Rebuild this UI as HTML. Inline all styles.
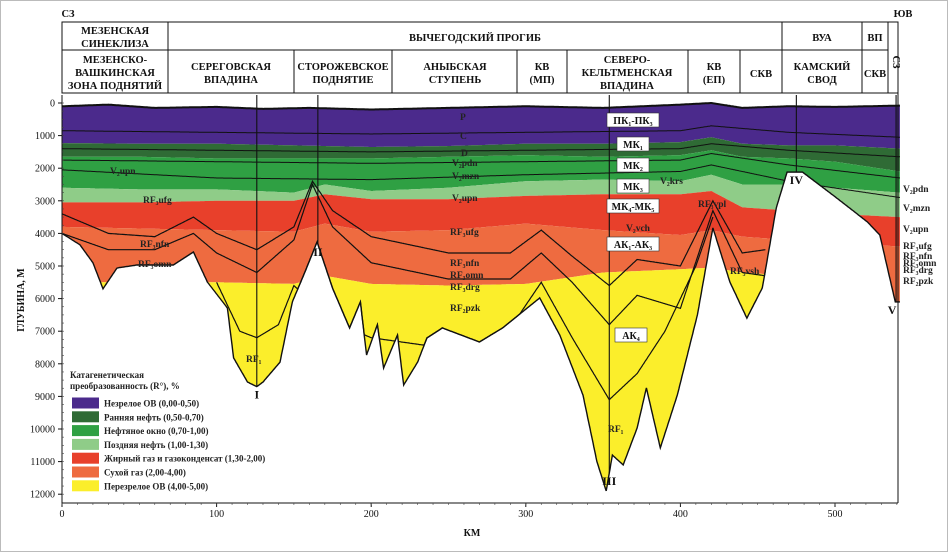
<!DOCTYPE html>
<html><head><meta charset="utf-8">
<style>
html,body{margin:0;padding:0;background:#fff;}
svg{display:block;font-family:"Liberation Serif","Noto Serif CJK SC",serif;}
.h{font-size:10.5px;font-weight:bold;fill:#111;text-anchor:middle;}
.t{font-size:10px;fill:#111;}
.lab{font-size:9.5px;font-weight:bold;fill:#222;}
.box{font-size:10px;font-weight:bold;fill:#111;text-anchor:middle;}
</style></head>
<body>
<svg id="chart" width="948" height="552" viewBox="0 0 948 552">
<rect x="0.5" y="0.5" width="947" height="551" fill="#fff" stroke="#bbb"/>
<g id="fills"></g>
<g id="lines"></g>
<g id="wells"></g>
<g id="axes"></g>
<g id="header"></g>
<g id="labels"></g>
<g id="legend"></g>
</svg>
<script>
// ---- data ----
const topKm=[0,30,60,100,130,160,200,250,300,350,400,420,440,470,500,542];
const topDepth=[100,50,150,120,180,150,200,150,100,150,50,0,150,100,120,80];
const bKm=[0,50,100,150,200,250,300,350,400,420,440,470,500,542];
const b1Depth=[1230,1250,1250,1300,1350,1320,1250,1250,1200,1050,1250,1300,1300,1400];
const b2Depth=[1650,1650,1700,1700,1700,1650,1600,1650,1600,1450,1650,1700,1800,2100];
const b3Km=[0,50,100,150,170,200,250,300,350,400,420,440,470,500,542];
const b3Depth=[2600,2650,2650,2750,2500,2700,2600,2400,2350,2400,2200,2500,2500,2600,2750];
const b4Depth=[3050,3050,3000,3000,2800,2950,2950,2850,2800,2800,2700,3200,3300,3400,3500];
const b5Depth=[3800,3850,3900,3950,3700,3950,3900,3700,3900,4050,3900,4100,4200,4300,4400];
const b6Depth=[5500,5500,5500,5550,5300,5550,5600,5550,5200,5100,5050,5200,5300,6500,6500];
const baseKm=[0,11.6,20,26.5,35.6,48.5,72,85,94,107,111,120,126,130,141,149,157,165,175,186,193,197,204,208,217,221,230,236,246,270,285,309,322,337,346,352,356,363,372,378,387,398,411,421,432,443,453,462,469,479,501,521,529,536,539,542];
const baseDepth=[4000,4350,4900,5700,5060,4970,4970,4570,5490,6290,7820,8560,8700,8560,7950,6100,5200,4260,5680,6900,6100,7730,6800,8130,7120,8650,7950,7210,6900,7330,6900,5980,7120,8960,11000,11900,10800,11100,9970,8740,10580,8960,6500,3830,5490,6600,5670,3220,2120,2120,2910,3650,4050,5490,6100,6100];
const hKm=[0,100,200,300,400,420,470,542];
const hCDepth=[850,900,950,900,850,700,900,1050];
const hDDepth=[1400,1450,1500,1450,1400,1250,1450,1650];
const hV1Depth=[1750,1800,1850,1800,1750,1550,1900,2300];
const hV2Depth=[2050,2300,2350,2200,2100,1900,2400,2900];
const hDeepKm=[0,30,60,85,100,126,150,162,175,200,250,290,310,330,354,372,400,421,440,455];
const hUfgDepth=[3400,4000,4100,3500,4000,4500,3800,2400,3300,4100,4600,4600,3900,4700,5600,4800,5000,3000,4600,4500];
const hNfnDepth=[4000,4500,4500,4000,4600,5200,4200,2500,3800,4900,5400,5400,4600,5500,6800,5900,6300,3300,5200,5300];
const hRfKm=[100,115,126,140,150,175,200,230,260,290,310,330,354,372,390,410,421];
const hRfDepth=[5500,7000,7200,6800,5600,6700,7200,7400,7600,6900,5500,7200,9100,8300,7000,5000,3500];
const yTicks=[0,1000,2000,3000,4000,5000,6000,7000,8000,9000,10000,11000,12000];
const xTicks=[0,100,200,300,400,500];
const layerColors=["#4b2a8c","#2f6b35","#2fa043","#8fcc88","#e8402b","#ee6b40","#fbee2b"];
const legendNames=["Незрелое ОВ (0,00-0,50)","Ранняя нефть (0,50-0,70)","Нефтяное окно (0,70-1,00)","Поздняя нефть (1,00-1,30)","Жирный газ и газоконденсат (1,30-2,00)","Сухой газ (2,00-4,00)","Перезрелое ОВ (4,00-5,00)"];
// ---- scales ----
const X=km=>62+km*1.546;
const Y=d=>103+d*0.0326;
const NS="http://www.w3.org/2000/svg";
function mk(tag,attrs,parent){const e=document.createElementNS(NS,tag);for(const k in attrs)e.setAttribute(k,attrs[k]);parent.appendChild(e);return e;}
function interp(ks,ds,k){if(k<=ks[0])return ds[0];for(let i=1;i<ks.length;i++){if(k<=ks[i]){const t=(k-ks[i-1])/(ks[i]-ks[i-1]);return ds[i-1]+t*(ds[i]-ds[i-1]);}}return ds[ds.length-1];}
const KMAX=542;
const samples=[];for(let k=0;k<=KMAX;k+=0.5)samples.push(k);
const base=k=>interp(baseKm,baseDepth,k);
const bounds=[k=>interp(topKm,topDepth,k),k=>interp(bKm,b1Depth,k),k=>interp(bKm,b2Depth,k),k=>interp(b3Km,b3Depth,k),k=>interp(b3Km,b4Depth,k),k=>interp(b3Km,b5Depth,k),k=>interp(b3Km,b6Depth,k),k=>1e9];
const fills=document.getElementById('fills');
const layerNames=['immature-layer','early-oil-layer','oil-window-layer','late-oil-layer','wet-gas-layer','dry-gas-layer','overmature-layer'];
for(let i=0;i<7;i++){
  let pts=samples.map(k=>X(k).toFixed(1)+','+Y(Math.min(bounds[i](k),base(k))).toFixed(1));
  let low=samples.slice().reverse().map(k=>X(k).toFixed(1)+','+Y(Math.min(bounds[i+1](k),base(k))).toFixed(1));
  const p=mk('polygon',{points:pts.concat(low).join(' '),fill:layerColors[i]},fills);
  
  
}
const lines=document.getElementById('lines');
function hline(ks,ds,name,w){
  const k0=ks[0],k1=ks[ks.length-1];
  const pts=samples.filter(k=>k>=k0&&k<=k1).map(k=>X(k).toFixed(1)+','+Y(Math.min(interp(ks,ds,k),base(k))).toFixed(1));
  const e=mk('polyline',{points:pts.join(' '),fill:'none',stroke:'#111','stroke-width':w},lines);
  
  
}
hline(topKm,topDepth,'ground-surface',2);
hline(hKm,hCDepth,'horizon-c',1);
hline(hKm,hDDepth,'horizon-d',1);
hline(hKm,hV1Depth,'horizon-v2pdn',1);
hline(hKm,hV2Depth,'horizon-v2upn',1);
hline(hDeepKm,hUfgDepth,'horizon-rf3ufg',1.2);
hline(hDeepKm,hNfnDepth,'horizon-rf3nfn',1.2);
hline(hRfKm,hRfDepth,'horizon-rf2',1.2);
hline(baseKm,baseDepth,'basement-line',1.4);
// wells
const wells=document.getElementById('wells');
const wellKm=[126,165.5,354,475,539.5];
const wellNames=['I','II','III','IV','V'];
wellKm.forEach((k,i)=>{
  const l=mk('line',{x1:X(k),x2:X(k),y1:95,y2:Y(base(k)),stroke:'#111','stroke-width':1.1},wells);
  
  
  const t=mk('text',{x:X(k)+(i==4?-4:0),y:Y(base(k))+12,'font-size':'12','font-weight':'bold','text-anchor':'middle',fill:'#111'},wells);
  t.textContent=wellNames[i];
  
  
});
// axes
const axes=document.getElementById('axes');
mk('line',{x1:62,x2:62,y1:95,y2:503,stroke:'#111'},axes);
mk('line',{x1:62,x2:898,y1:503,y2:503,stroke:'#111'},axes);
mk('line',{x1:898,x2:898,y1:93,y2:503,stroke:'#111'},axes);
yTicks.forEach(v=>{
  mk('line',{x1:58,x2:62,y1:Y(v),y2:Y(v),stroke:'#111'},axes);
  const t=mk('text',{x:55,y:Y(v)+3.5,'text-anchor':'end',class:'t'},axes);
  t.textContent=v;
  
  
});
for(let v=0;v<=1200;v+=25){const yy=Y(v*10);mk('line',{x1:62,x2:64,y1:yy,y2:yy,stroke:'#444','stroke-width':0.6},axes);}
xTicks.forEach(v=>{
  mk('line',{x1:X(v),x2:X(v),y1:503,y2:507,stroke:'#111'},axes);
  const t=mk('text',{x:X(v),y:517,'text-anchor':'middle',class:'t'},axes);
  t.textContent=v;
  
  
});
for(let v=0;v<=540;v+=10){mk('line',{x1:X(v),x2:X(v),y1:503,y2:505,stroke:'#444','stroke-width':0.6},axes);}
let t=mk('text',{x:472,y:536,'text-anchor':'middle','font-size':'10','font-weight':'bold',fill:'#111'},axes);t.textContent='КМ';

t=mk('text',{x:24,y:300,'text-anchor':'middle','font-size':'10','font-weight':'bold',fill:'#111',transform:'rotate(-90 24 300)'},axes);t.textContent='ГЛУБИНА, М';

// header
const hd=document.getElementById('header');
mk('rect',{x:62,y:22,width:836,height:71,fill:'#fff',stroke:'#111'},hd);
mk('line',{x1:62,x2:888,y1:50,y2:50,stroke:'#111'},hd);
[168,782,862,888].forEach(x=>mk('line',{x1:x,x2:x,y1:22,y2:93,stroke:'#111'},hd));
[294,392,517,567,688,740].forEach(x=>mk('line',{x1:x,x2:x,y1:50,y2:93,stroke:'#111'},hd));
function ht(x,y,s,name){const e=mk('text',{x:x,y:y,class:'h'},hd);e.textContent=s;}
ht(115,34,'МЕЗЕНСКАЯ','h-mezen1');ht(115,47,'СИНЕКЛИЗА','h-mezen2');
ht(475,41,'ВЫЧЕГОДСКИЙ ПРОГИБ','h-vychegda');ht(822,41,'ВУА','h-vua');ht(875,41,'ВП','h-vp');
ht(115,63,'МЕЗЕНСКО-','h-z1');ht(115,76,'ВАШКИНСКАЯ','h-z2');ht(115,89,'ЗОНА ПОДНЯТИЙ','h-z3');
ht(231,70,'СЕРЕГОВСКАЯ','h-s1');ht(231,83,'ВПАДИНА','h-s2');
ht(343,70,'СТОРОЖЕВСКОЕ','h-st1');ht(343,83,'ПОДНЯТИЕ','h-st2');
ht(455,70,'АНЫБСКАЯ','h-a1');ht(455,83,'СТУПЕНЬ','h-a2');
ht(542,70,'КВ','h-kv1');ht(542,83,'(МП)','h-kv1b');
ht(627,63,'СЕВЕРО-','h-sk1');ht(627,76,'КЕЛЬТМЕНСКАЯ','h-sk2');ht(627,89,'ВПАДИНА','h-sk3');
ht(714,70,'КВ','h-kv2');ht(714,83,'(ЕП)','h-kv2b');
ht(761,77,'СКВ','h-skv1');ht(822,70,'КАМСКИЙ','h-ks1');ht(822,83,'СВОД','h-ks2');ht(875,77,'СКВ','h-skv2');
t=mk('text',{x:893,y:62,class:'h',transform:'rotate(90 893 62)'},hd);t.textContent='СЗ';
t=mk('text',{x:68,y:17,class:'h'},hd);t.textContent='СЗ';
t=mk('text',{x:903,y:17,class:'h'},hd);t.textContent='ЮВ';
// labels
const lb=document.getElementById('labels');
function lab(x,y,s,name){const e=mk('text',{x:x,y:y,class:'lab'},lb);e.textContent=s;}
[[460,120,'P'],[460,139,'C'],[461,156,'D'],[452,166,'V₂pdn'],[452,179,'V₂mzn'],[452,201,'V₂upn'],[450,235,'RF₃ufg'],[450,266,'RF₃nfn'],[450,278,'RF₃omn'],[450,290,'RF₃drg'],[450,311,'RF₂pzk'],
 [110,174,'V₂upn'],[143,203,'RF₃ufg'],[140,247,'RF₃nfn'],[138,267,'RF₃omn'],[246,362,'RF₁'],[608,432,'RF₁'],[626,231,'V₂vch'],[660,184,'V₂krs'],[698,207,'RF₃vpl'],[730,274,'RF₃vsh'],
 [903,192,'V₂pdn'],[903,211,'V₂mzn'],[903,232,'V₂upn'],[903,249,'RF₃ufg'],[903,259,'RF₃nfn'],[903,266,'RF₃omn'],[903,273,'RF₃drg'],[903,284,'RF₂pzk']].forEach((a,i)=>lab(a[0],a[1],a[2],'strat-label-'+i));
[[633,121,'ПК₁-ПК₃'],[633,145,'МК₁'],[633,166,'МК₂'],[633,187,'МК₃'],[633,207,'МК₄-МК₅'],[633,245,'АК₁-АК₃'],[631,336,'АК₄']].forEach((a,i)=>{
  const w=a[2].length>4?52:32;
  mk('rect',{x:a[0]-w/2,y:a[1]-8,width:w,height:14,fill:'#fff',stroke:'#333','stroke-width':0.6},lb);
  const e=mk('text',{x:a[0],y:a[1]+3,class:'box'},lb);e.textContent=a[2];
  
});
// legend
const lg=document.getElementById('legend');
mk('rect',{x:64,y:368,width:182,height:128,fill:'none'},lg);
t=mk('text',{x:70,y:378,'font-size':'9','font-weight':'bold',fill:'#222'},lg);t.textContent='Катагенетическая';
t=mk('text',{x:70,y:389,'font-size':'9','font-weight':'bold',fill:'#222'},lg);t.textContent='преобразованность (R°), %';
legendNames.forEach((n,i)=>{
  const y=403+i*13.8;
  const r=mk('rect',{x:72,y:y-5.5,width:27,height:11,fill:layerColors[i]},lg);
  
  const e=mk('text',{x:104,y:y+3.5,'font-size':'9','font-weight':'bold',fill:'#222'},lg);e.textContent=n;
  
});
</script>
</body></html>
